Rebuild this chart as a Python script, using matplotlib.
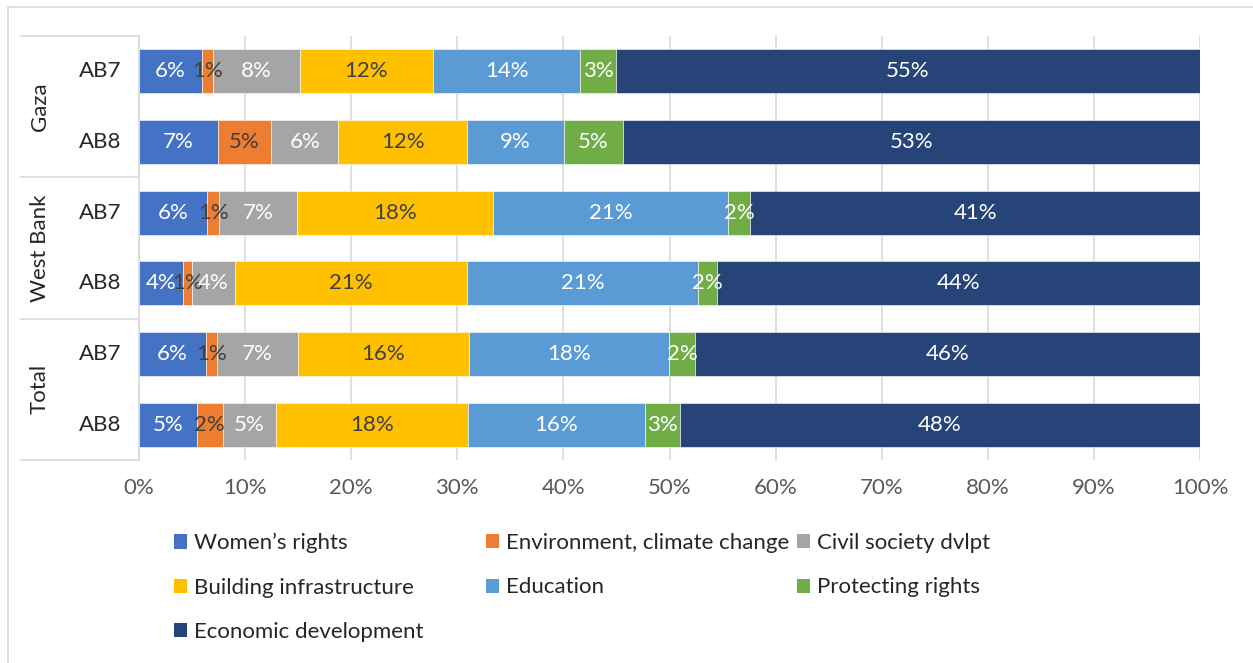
import numpy as np
from matplotlib import pyplot as plt
from matplotlib.patches import Patch, Rectangle
from matplotlib.lines import Line2D
import matplotlib.transforms as mtrans

# data (percent; bars are normalised to 100%)
groups = ["Gaza", "West Bank", "Total"]
waves = ["AB7", "AB8"]
topics = ["Women\u2019s rights", "Environment, climate change", "Civil society dvlpt",
          "Building infrastructure", "Education", "Protecting rights", "Economic development"]
colors = ["#4472C4", "#ED7D31", "#A5A5A5", "#FFC000", "#5B9BD5", "#70AD47", "#264478"]
gaza_ab7 = [5.9, 1.0, 8.1, 12.45, 13.8, 3.3, 54.6]
gaza_ab8 = [7.3, 4.9, 6.2, 11.9, 8.9, 5.45, 53.3]
wb_ab7 = [6.2, 1.1, 7.1, 17.8, 21.4, 2.0, 40.9]
wb_ab8 = [4.0, 0.8, 3.95, 21.15, 21.0, 1.7, 44.0]
tot_ab7 = [6.1, 1.0, 7.4, 15.6, 18.3, 2.4, 46.1]
tot_ab8 = [5.3, 2.4, 4.9, 17.6, 16.3, 3.2, 47.8]
rows = [gaza_ab7, gaza_ab8, wb_ab7, wb_ab8, tot_ab7, tot_ab8]
xticks = [0, 0.1, 0.2, 0.3, 0.4, 0.5, 0.6, 0.7, 0.8, 0.9, 1.0]

plt.rcParams["font.family"] = ["Lato", "DejaVu Sans"]
fs = 16
W, H = 1253, 663
fig = plt.figure(figsize=(W / 100, H / 100), dpi=100)
ax = fig.add_axes([139 / W, 1 - 460 / H, (1200 - 139) / W, (460 - 36) / H])

vals = np.array(rows)
shares = vals / vals.sum(axis=1, keepdims=True)
ypos = np.arange(len(rows))
left = np.zeros(len(rows))
dark_text = {1, 3}
for j, t in enumerate(topics):
    ax.barh(ypos, shares[:, j], left=left, height=0.625, color=colors[j],
            edgecolor="white", linewidth=0.4, label=t, zorder=3)
    for i in ypos:
        ax.text(left[i] + shares[i, j] / 2, i, "%d%%" % round(vals[i, j]),
                ha="center", va="center", fontsize=fs,
                color="#404040" if j in dark_text else "white", zorder=4)
    left += shares[:, j]

ax.set_xlim(0, 1)
ax.set_ylim(len(rows) - 0.5, -0.5)
ax.set_xticks(xticks)
ax.set_xticklabels(["%d%%" % round(x * 100) for x in xticks])
ax.tick_params(axis="x", length=0, pad=13, labelsize=fs, labelcolor="#595959")
ax.set_yticks([])
ax.grid(axis="x", color="#d9d9d9", lw=1.2, zorder=0)
for s in ["top", "right", "bottom"]:
    ax.spines[s].set_visible(False)
ax.spines["left"].set_color("#d9d9d9")
ax.spines["left"].set_linewidth(1.2)

# category labels on the left
tr = mtrans.blended_transform_factory(fig.transFigure, ax.transData)
for i in ypos:
    ax.text(100 / W, i, waves[i % 2], transform=tr, ha="center", va="center",
            fontsize=fs, color="#262626")
for g, name in enumerate(groups):
    ax.text(40 / W, 2 * g + 0.5, name, transform=tr, ha="center", va="center",
            rotation=90, fontsize=fs, color="#262626")
for yb in [-0.5, 1.5, 3.5, 5.5]:
    ax.add_line(Line2D([21 / W, 139 / W], [yb, yb], transform=tr, color="#d9d9d9",
                       lw=1.2, clip_on=False))

# outer chart frame
fig.patches.append(Rectangle((8 / W, -0.1), 1.2, 1 - 7 / H + 0.1, transform=fig.transFigure,
                             fill=False, edgecolor="#d9d9d9", lw=1.2))

# legend, row-major like the original
handles = [Patch(facecolor=c, label=t) for c, t in zip(colors, topics)]
cols = [[0, 3, 6], [1, 4], [2, 5]]
col_x = [174, 486, 797]
for cx, idx in zip(col_x, cols):
    fig.legend(handles=[handles[k] for k in idx], loc="upper left",
               bbox_to_anchor=(cx / W, 1 - 533 / H), frameon=False, fontsize=fs,
               handlelength=0.6, handleheight=0.6, handletextpad=0.3,
               labelspacing=1.1, borderpad=0, borderaxespad=0, labelcolor="#262626")

fig.savefig("out.png", dpi=100)
